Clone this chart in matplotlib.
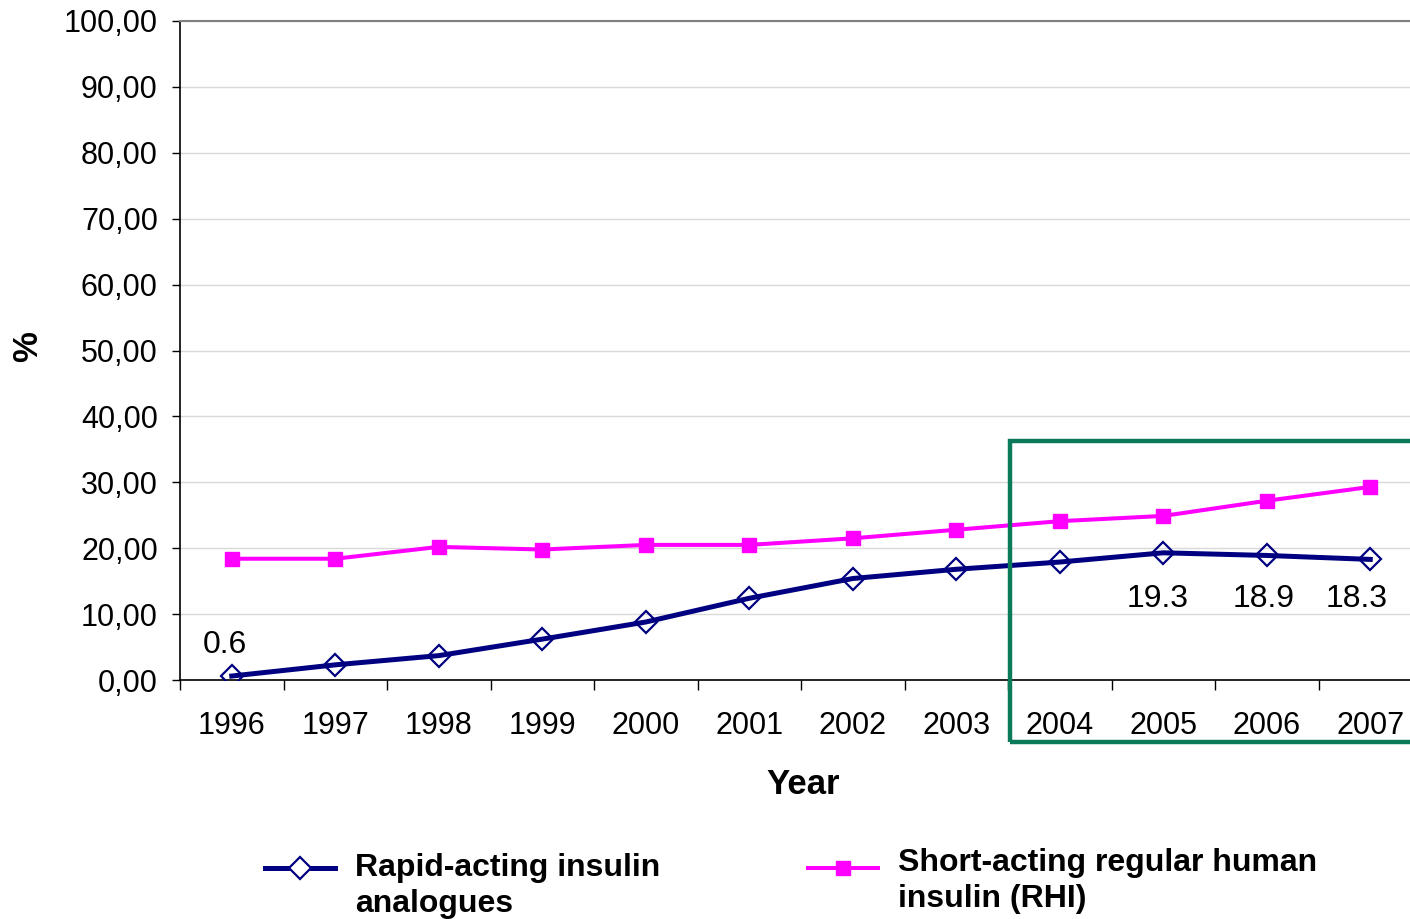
import matplotlib
matplotlib.use("Agg")
import matplotlib.pyplot as plt
from matplotlib.lines import Line2D
from matplotlib.patches import Rectangle
import numpy as np

years = ["1996", "1997", "1998", "1999", "2000", "2001", "2002", "2003", "2004", "2005", "2006", "2007"]
rapid = [0.6, 2.3, 3.7, 6.2, 8.8, 12.4, 15.4, 16.8, 17.9, 19.3, 18.9, 18.3]
short = [18.4, 18.4, 20.2, 19.8, 20.5, 20.5, 21.5, 22.8, 24.1, 24.9, 27.2, 29.3]
yticks = [0, 10, 20, 30, 40, 50, 60, 70, 80, 90, 100]
ytick_labels = ["0,00", "10,00", "20,00", "30,00", "40,00", "50,00", "60,00", "70,00", "80,00", "90,00", "100,00"]
annot_idx = [0, 9, 10, 11]
annot_text = ["0.6", "19.3", "18.9", "18.3"]
legend_labels = ["Rapid-acting insulin\nanalogues", "Short-acting regular human\ninsulin (RHI)"]

plt.rcParams['font.family'] = ['Liberation Sans', 'DejaVu Sans']

W, H = 1410, 919
fig = plt.figure(figsize=(W / 100, H / 100), dpi=100)
ax = fig.add_axes([180 / W, 1 - 680 / H, 1242 / W, 659 / H])

x = np.arange(len(years))
navy = "#000080"
pink = "#FF00FF"

ax.plot(x, short, color=pink, lw=2.9, marker="s", ms=10.5, mfc=pink, mec=pink, zorder=3)
ax.plot(x, rapid, color=navy, lw=3.6, marker="D", ms=11.5, mfc="none", mec=navy, mew=1.6, zorder=4)

ax.set_xlim(-0.5, 11.5)
ax.set_ylim(0, 100)
ax.set_yticks(yticks)
ax.set_yticklabels(ytick_labels, fontsize=22)
ax.set_xticks(x)
ax.set_xticklabels(years, fontsize=22)
ax.set_xticks(np.arange(-0.5, 12, 1), minor=True)
ax.tick_params(axis="x", which="major", length=0, pad=22.5)
ax.tick_params(axis="x", which="minor", length=7, width=1, color="black", direction="out")
ax.tick_params(axis="y", which="major", length=6, width=1, pad=10, direction="out")

ax.grid(axis="y", color="#D9D9D9", lw=1)
ax.set_axisbelow(True)
ax.spines["right"].set_visible(False)
ax.spines["top"].set_color("#808080")
ax.spines["top"].set_linewidth(1.5)
ax.spines["left"].set_color("black")
ax.spines["bottom"].set_color("black")
ax.spines["left"].set_linewidth(1.2)
ax.spines["bottom"].set_linewidth(1.2)

offsets = {0: (-7, 4.7), 9: (-6, -7.0), 10: (-3, -6.6), 11: (-14, -6.0)}
for i, t in zip(annot_idx, annot_text):
    dx, dy = offsets[i]
    ax.text(x[i] + dx / 103.5, rapid[i] + dy, t, fontsize=23, ha="center", va="center")

fig.text(803 / W, 1 - 784 / H, "Year", fontsize=25, fontweight="bold", ha="center", va="center")
fig.text(28 / W, 1 - 347 / H, "%", fontsize=25, fontweight="bold", ha="center", va="center", rotation=90)

# green highlight box
fig.patches.append(Rectangle((1010 / W, 1 - 742 / H), 420 / W, 301 / H, transform=fig.transFigure,
                             fill=False, edgecolor="#0B7A5A", lw=3.2, clip_on=False))

# legend
def handle(x0, x1, y, color, lw, marker, mfc, ms, mew):
    fig.lines.append(Line2D([x0 / W, x1 / W], [1 - y / H, 1 - y / H], transform=fig.transFigure,
                            color=color, lw=lw))
    fig.lines.append(Line2D([(x0 + x1) / 2 / W], [1 - y / H], transform=fig.transFigure,
                            color=color, marker=marker, mfc=mfc, mec=color, ms=ms, mew=mew, lw=0))

handle(265, 335, 868, navy, 3.6, "D", "white", 11.5, 1.6)
handle(808, 878, 868, pink, 2.9, "s", pink, 10.5, 1)
fig.text(355 / W, 1 - 886 / H, legend_labels[0], fontsize=23, fontweight="bold", ha="left", va="center",
         linespacing=1.25)
fig.text(898 / W, 1 - 881 / H, legend_labels[1], fontsize=23, fontweight="bold", ha="left", va="center",
         linespacing=1.25)

fig.savefig("out.png", dpi=100)
